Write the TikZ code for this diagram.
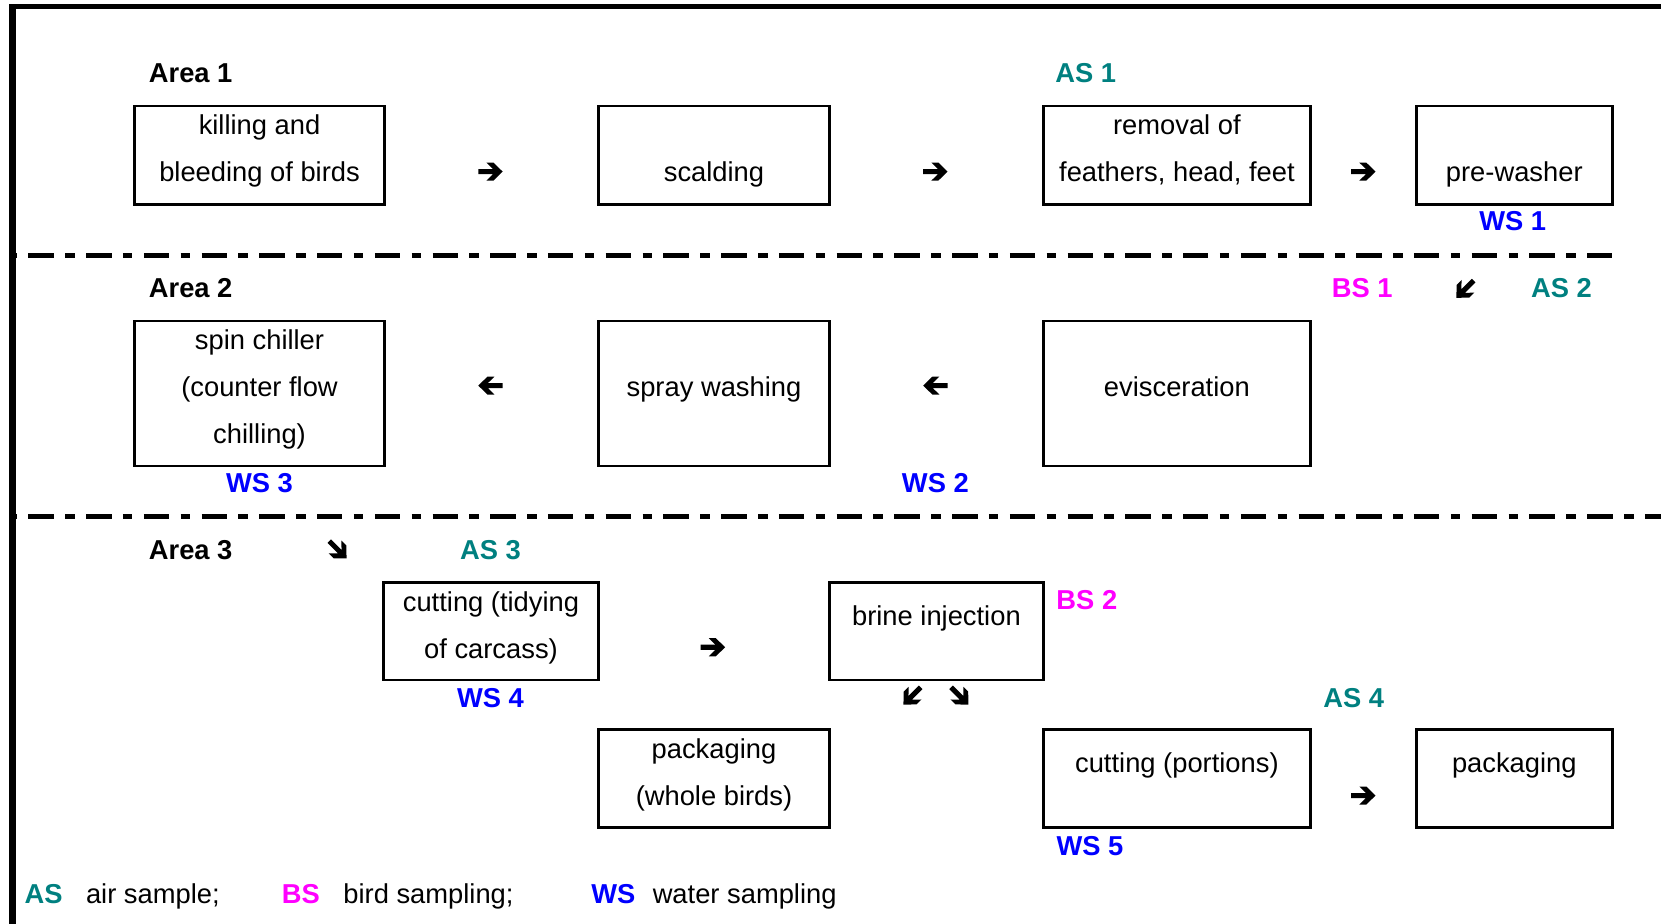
\documentclass[tikz,border=0pt]{standalone}
\usepackage{fontspec}
\setmainfont{Liberation Sans}
\definecolor{asc}{RGB}{0,128,128}
\definecolor{bsc}{RGB}{255,0,255}
\definecolor{wsc}{RGB}{0,0,255}
\newcommand{\bt}[4]{\parbox[t][#2pt][t]{#1pt}{\fontsize{25.8pt}{44.5pt}\selectfont\centering\rule{0pt}{#3pt}#4}}
\tikzset{
  box/.style={draw, line width=2.6pt, inner sep=0pt, outer sep=0pt, anchor=north west},
  lbl/.style={font=\fontsize{25.8pt}{30pt}\selectfont\bfseries, anchor=base, inner sep=0pt},
  leg/.style={font=\fontsize{25.8pt}{30pt}\selectfont, anchor=base west, inner sep=0pt},
  sep/.style={line width=4.7pt, dash pattern=on 24pt off 10.75pt on 9pt off 10.75pt},
  sepstub/.style={line width=4.7pt},
  harrow/.pic={\fill[black] (-11.5,-2.4) -- (2.4,-2.4) -- (-3.8,-8.5) -- (2.8,-8.5) -- (11.5,0)
     -- (2.8,8.5) -- (-3.8,8.5) -- (2.4,2.4) -- (-11.5,2.4) -- cycle;}
}
\begin{document}
\begin{tikzpicture}[x=1pt,y=-1pt]
\useasboundingbox (0,0) rectangle (1568,872);
% frame
\draw[line width=5pt] (8.8,6.3) -- (1568,6.3);
\draw[line width=6.3pt] (12,3.8) -- (12,872);
% separators
\draw[sepstub] (9,241) -- (16,241);
\draw[sep] (26.8,241) -- (1522,241);
\draw[sepstub] (9,488) -- (16,488);
\draw[sep] (26.8,488) -- (1568,488);

% Area 1
\node[lbl] (area1) at (180,78) {Area 1};
\node[lbl, asc] (as1) at (1025,78) {AS 1};
\node[box] (kill) at (127,100) {\bt{236}{93}{27}{killing and\\bleeding of birds}};
\node[box] (scald) at (565,100) {\bt{218}{93}{27}{\\scalding}};
\node[box] (remov) at (985,100) {\bt{252}{93}{27}{removal of\\feathers, head, feet}};
\node[box] (prew) at (1337,100) {\bt{185}{93}{27}{\\pre-washer}};
\node[lbl, wsc] (ws1) at (1428,218) {WS 1};
\coordinate (r1) at (463,162);
\coordinate (r2) at (883,162);
\coordinate (r3) at (1287,162);
\pic at (r1) {harrow};
\pic at (r2) {harrow};
\pic at (r3) {harrow};

% Area 2
\node[lbl] (area2) at (180,281) {Area 2};
\node[lbl, bsc] (bs1) at (1286,281) {BS 1};
\node[lbl, asc] (as2) at (1474,281) {AS 2};
\coordinate (d1) at (1383,273);
\pic[rotate=-135] at (d1) {harrow};
\node[box] (spin) at (127,303) {\bt{236}{137}{27}{spin chiller\\(counter flow\\chilling)}};
\node[box] (spray) at (565,303) {\bt{218}{137}{27}{\\spray washing}};
\node[box] (evis) at (985,303) {\bt{252}{137}{27}{\\evisceration}};
\coordinate (l1) at (463,364);
\coordinate (l2) at (883,364);
\pic[rotate=180] at (l1) {harrow};
\pic[rotate=180] at (l2) {harrow};
\node[lbl, wsc] (ws3) at (245,465) {WS 3};
\node[lbl, wsc] (ws2) at (883,465) {WS 2};

% Area 3
\node[lbl] (area3) at (180,528) {Area 3};
\coordinate (d2) at (319,519);
\pic[rotate=-45] at (d2) {harrow};
\node[lbl, asc] (as3) at (463,528) {AS 3};
\node[box] (tidy) at (362,550) {\bt{203}{92}{27}{cutting (tidying\\of carcass)}};
\coordinate (r4) at (673,611);
\pic at (r4) {harrow};
\node[box] (brine) at (783,550) {\bt{202}{92}{40.5}{brine injection}};
\node[lbl, bsc] (bs2) at (1026,575.5) {BS 2};
\node[lbl, wsc] (ws4) at (463,668) {WS 4};
\coordinate (d3) at (861,657);
\coordinate (d4) at (906,657);
\pic[rotate=-135] at (d3) {harrow};
\pic[rotate=-45] at (d4) {harrow};
\node[lbl, asc] (as4) at (1278,668) {AS 4};
\node[box] (packw) at (565,689) {\bt{218}{92}{27}{packaging\\(whole birds)}};
\node[box] (cutp) at (985,689) {\bt{252}{92}{40.5}{cutting (portions)}};
\coordinate (r5) at (1287,751);
\pic at (r5) {harrow};
\node[box] (pack) at (1337,689) {\bt{185}{92}{40.5}{packaging}};
\node[lbl, wsc] (ws5) at (1029,807.5) {WS 5};

% legend
\node[leg, font=\fontsize{25.8pt}{30pt}\selectfont\bfseries, asc] (lgas) at (23,853) {AS};
\node[leg] (lgast) at (81,853) {air sample;};
\node[leg, font=\fontsize{25.8pt}{30pt}\selectfont\bfseries, bsc] (lgbs) at (266,853) {BS};
\node[leg] (lgbst) at (324,853) {bird sampling;};
\node[leg, font=\fontsize{25.8pt}{30pt}\selectfont\bfseries, wsc] (lgws) at (558,853) {WS};
\node[leg] (lgwst) at (616,853) {water sampling};
\end{tikzpicture}
\end{document}
